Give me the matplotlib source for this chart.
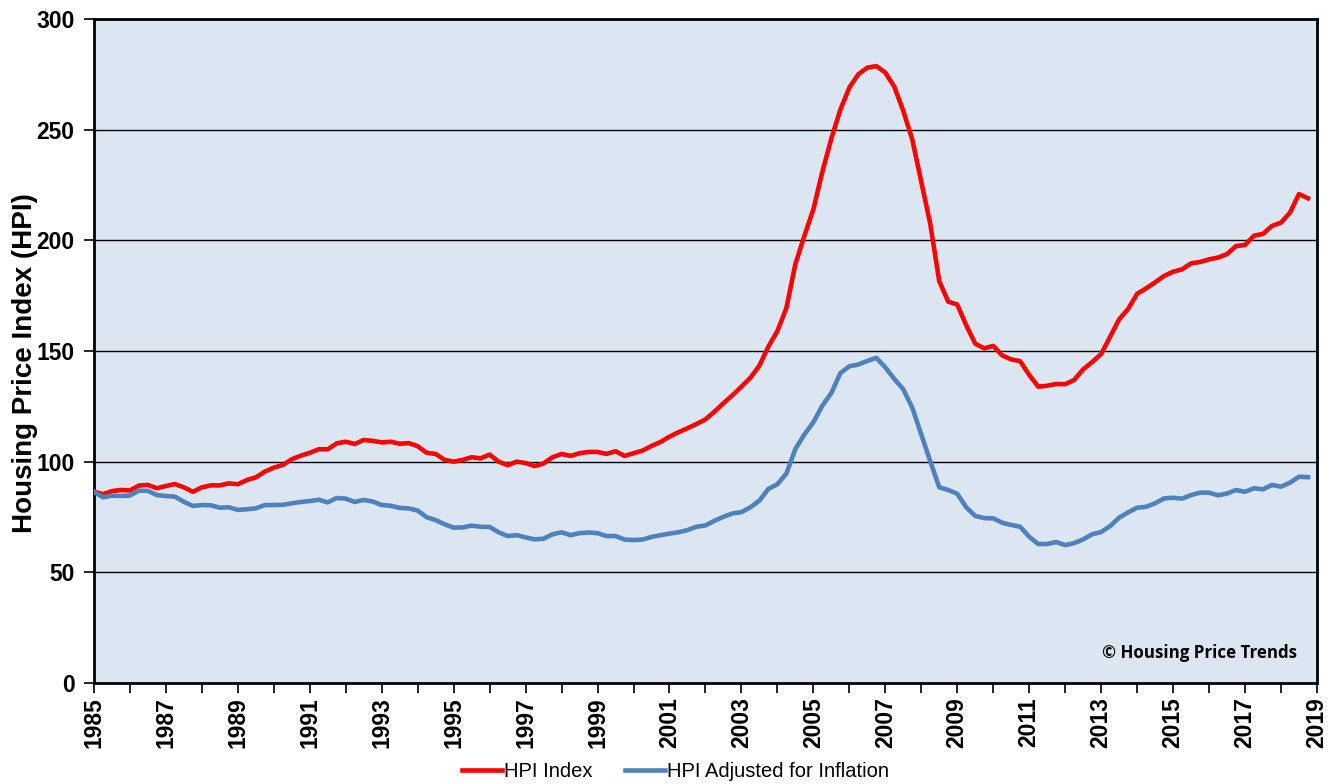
import numpy as np
import matplotlib
matplotlib.use("Agg")
import matplotlib.pyplot as plt
from matplotlib.ticker import MultipleLocator

# quarterly values, 1985 Q1 .. 2018 Q4
hpi_index = [
    86.5, 85.3, 86.7, 87.2,   87.0, 89.2, 89.5, 88.0,   89.0, 89.9, 88.4, 86.4,
    88.4, 89.3, 89.3, 90.2,   89.8, 91.7, 92.9, 95.5,   97.3, 98.5, 101.1, 102.7,
    104.0, 105.6, 105.6, 108.3, 109.0, 108.0, 109.8, 109.4, 108.7, 109.0, 108.1, 108.4,
    107.0, 104.0, 103.5, 100.8, 100.0, 100.8, 102.0, 101.5, 103.2, 100.0, 98.4, 100.0,
    99.4, 98.0, 99.2, 102.0,  103.5, 102.6, 103.8, 104.4, 104.4, 103.5, 104.7, 102.6,
    103.8, 105.0, 107.1, 108.9, 111.3, 113.3, 115.1, 117.0, 119.1, 122.6, 126.4, 130.0,
    133.9, 137.9, 143.4, 152.0, 159.0, 169.4, 189.3, 202.0, 214.0, 231.0, 246.0, 259.0,
    269.0, 275.0, 278.0, 278.7, 275.8, 269.4, 258.5, 245.5, 226.5, 207.4, 181.5, 172.3,
    171.0, 161.6, 153.3, 151.2, 152.3, 148.0, 146.2, 145.4, 139.2, 133.9, 134.3, 135.1,
    135.0, 136.9, 141.7, 145.0, 148.6, 156.5, 164.3, 169.0, 175.8, 178.3, 181.0, 183.9,
    185.8, 186.9, 189.6, 190.2, 191.4, 192.2, 193.8, 197.4, 197.9, 202.1, 202.9, 206.5,
    208.0, 212.5, 220.9, 219.0,
]
hpi_adjusted = [
    86.4, 83.9, 84.6, 84.5,   84.7, 86.9, 86.8, 84.9,   84.5, 84.2, 81.9, 80.0,
    80.4, 80.3, 79.2, 79.4,   78.2, 78.5, 78.9, 80.4,   80.4, 80.5, 81.2, 81.8,
    82.2, 82.8, 81.6, 83.6,   83.3, 81.8, 82.7, 82.0,   80.4, 80.1, 79.1, 78.9,
    77.9, 74.9, 73.6, 71.7,   70.2, 70.3, 71.1, 70.6,   70.5, 68.1, 66.4, 66.8,
    65.8, 64.9, 65.2, 67.2,   68.1, 66.8, 67.7, 68.0,   67.7, 66.4, 66.4, 64.8,
    64.6, 64.8, 66.0, 66.8,   67.5, 68.1, 69.1, 70.6,   71.2, 73.3, 75.1, 76.6,
    77.2, 79.4, 82.4, 87.7,   89.8, 94.6, 105.7, 112.3, 117.8, 125.3, 131.0, 140.0,
    143.1, 143.9, 145.5, 146.9, 142.6, 137.4, 132.7, 124.4, 112.3, 100.2, 88.4, 87.2,
    85.5, 79.4, 75.5, 74.5,   74.4, 72.4, 71.4, 70.6,   66.1, 62.8, 62.8, 63.7,
    62.3, 63.2, 64.9, 67.2,   68.2, 70.9, 74.7, 77.1,   79.2, 79.6, 81.2, 83.4,
    83.7, 83.3, 84.9, 86.0,   86.0, 84.8, 85.6, 87.2,   86.4, 88.0, 87.5, 89.5,
    88.7, 90.5, 93.2, 93.0,
]
start_year = 1985
years = start_year + np.arange(len(hpi_index)) / 4.0
label_years = list(range(1985, 2020, 2))

plt.rcParams['font.family'] = ['Liberation Sans', 'DejaVu Sans']

fig = plt.figure(figsize=(13.4, 7.84), dpi=100)
ax = fig.add_axes([0.0701, 0.1288, 0.9127, 0.847])
ax.set_facecolor('#DCE6F1')

ax.plot(years, hpi_index, color='#FF0000', lw=3.3, label='HPI Index', zorder=3)
ax.plot(years, hpi_adjusted, color='#4F81BD', lw=3.3, label='HPI Adjusted for Inflation', zorder=3)

ax.set_xlim(1985, 2019)
ax.set_ylim(0, 300)
ax.set_yticks(range(0, 301, 50))
ax.xaxis.set_minor_locator(MultipleLocator(1))
ax.set_xticks(label_years)
ax.set_xticklabels([str(y) for y in label_years], rotation=90, fontweight='bold', fontsize=16.5)
ax.set_yticklabels([str(v) for v in range(0, 301, 50)], fontweight='bold', fontsize=16.5)
ax.tick_params(axis='both', which='both', direction='out', length=7, width=1.2, color='black')
ax.tick_params(axis='y', pad=7)
ax.tick_params(axis='x', pad=3)

ax.yaxis.grid(True, color='black', lw=1.0)
ax.set_axisbelow(True)
for s in ax.spines.values():
    s.set_linewidth(2)
    s.set_color('black')

ax.set_ylabel('Housing Price Index (HPI)', fontsize=20, fontweight='bold')
ax.yaxis.set_label_coords(-0.046, 0.482)

ax.text(0.984, 0.045, '\u00a9 Housing Price Trends', transform=ax.transAxes,
        ha='right', va='center', fontsize=12.2, fontweight='bold',
        family=['Open Sans', 'DejaVu Sans'])

fig.legend(loc='center', bbox_to_anchor=(0.504, 0.016), ncol=2, frameon=False,
           fontsize=14.5, handlelength=2.0, handletextpad=0.1, columnspacing=1.6)

fig.savefig('out.png', dpi=100)
